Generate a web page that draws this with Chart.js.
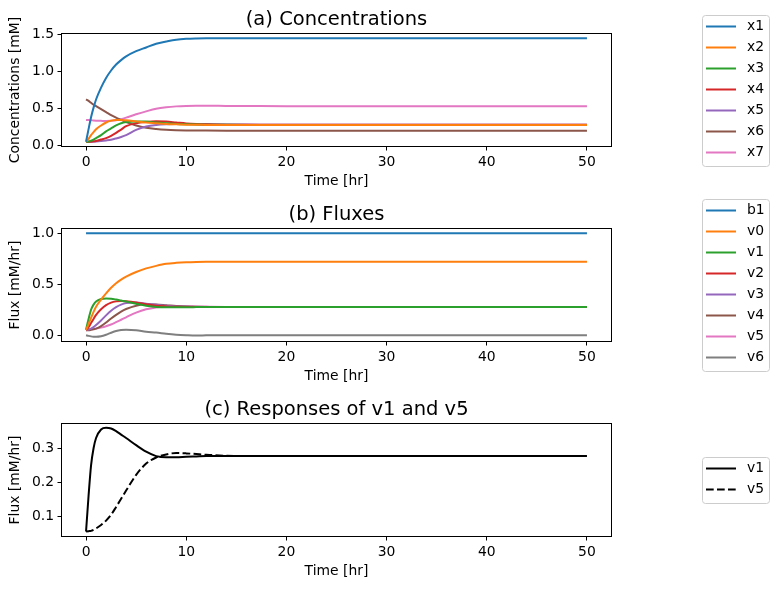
<!DOCTYPE html>
<html>
<head>
<meta charset="utf-8">
<script src="https://cdn.jsdelivr.net/npm/chart.js@4"></script>
<style>
    body { margin: 0; background: #ffffff; }
    .panel { position: absolute; left: 0; }
</style>
</head>
<body>
<canvas id="chartConc" class="panel" width="779" height="195" style="top:0px"></canvas>
<canvas id="chartFlux" class="panel" width="779" height="195" style="top:195px"></canvas>
<canvas id="chartResp" class="panel" width="779" height="195" style="top:390px"></canvas>
<script>
// Temps d'échantillonnage [hr]
const times = [0, 0.25, 0.5, 0.75, 1, 1.5, 2, 2.5, 3, 3.5, 4, 5, 6, 7, 8, 9, 10, 11, 12, 14, 16, 20, 30, 40, 50];

// (a) concentrations [mM]
const x1 = [0.05, 0.22, 0.38, 0.51, 0.62, 0.78, 0.91, 1.01, 1.09, 1.15, 1.2, 1.27, 1.32, 1.37, 1.4, 1.425, 1.437, 1.442, 1.444, 1.445, 1.445, 1.445, 1.445, 1.445, 1.445];
const x2 = [0.05, 0.09, 0.14, 0.18, 0.22, 0.27, 0.31, 0.335, 0.345, 0.345, 0.34, 0.325, 0.31, 0.3, 0.29, 0.285, 0.281, 0.279, 0.277, 0.276, 0.275, 0.275, 0.275, 0.275, 0.275];
const x3 = [0.05, 0.055, 0.065, 0.08, 0.1, 0.14, 0.19, 0.23, 0.27, 0.3, 0.315, 0.325, 0.322, 0.31, 0.3, 0.29, 0.285, 0.282, 0.28, 0.278, 0.277, 0.277, 0.277, 0.277, 0.277];
const x4 = [0.05, 0.05, 0.052, 0.056, 0.062, 0.08, 0.1, 0.13, 0.17, 0.215, 0.26, 0.3, 0.318, 0.326, 0.322, 0.31, 0.298, 0.29, 0.285, 0.281, 0.28, 0.28, 0.28, 0.28, 0.28];
const x5 = [0.05, 0.05, 0.051, 0.052, 0.054, 0.06, 0.068, 0.078, 0.095, 0.115, 0.14, 0.21, 0.255, 0.277, 0.287, 0.29, 0.29, 0.288, 0.286, 0.283, 0.282, 0.28, 0.28, 0.28, 0.28];
const x6 = [0.62, 0.6, 0.575, 0.55, 0.53, 0.49, 0.45, 0.41, 0.375, 0.345, 0.315, 0.27, 0.24, 0.223, 0.212, 0.206, 0.203, 0.202, 0.201, 0.2, 0.2, 0.2, 0.2, 0.2, 0.2];
const x7 = [0.345, 0.342, 0.34, 0.337, 0.335, 0.332, 0.33, 0.332, 0.34, 0.355, 0.375, 0.42, 0.46, 0.495, 0.515, 0.527, 0.533, 0.535, 0.535, 0.533, 0.532, 0.53, 0.53, 0.53, 0.53];

// (b) flux [mM/hr]
const b1 = [1, 1, 1, 1, 1, 1, 1, 1, 1, 1, 1, 1, 1, 1, 1, 1, 1, 1, 1, 1, 1, 1, 1, 1, 1];
const v0 = [0.05, 0.11, 0.17, 0.23, 0.28, 0.35, 0.41, 0.465, 0.51, 0.545, 0.575, 0.62, 0.655, 0.68, 0.7, 0.71, 0.716, 0.719, 0.72, 0.72, 0.72, 0.72, 0.72, 0.72, 0.72];
const v1 = [0.056, 0.16, 0.25, 0.3, 0.33, 0.355, 0.36, 0.358, 0.35, 0.34, 0.33, 0.309, 0.29, 0.277, 0.2735, 0.2735, 0.275, 0.276, 0.277, 0.2775, 0.2775, 0.2775, 0.2775, 0.2775, 0.2775];
const v2 = [0.05, 0.08, 0.12, 0.16, 0.2, 0.255, 0.295, 0.32, 0.332, 0.335, 0.333, 0.322, 0.305, 0.29, 0.283, 0.279, 0.277, 0.277, 0.2775, 0.2775, 0.2775, 0.2775, 0.2775, 0.2775, 0.2775];
const v3 = [0.05, 0.055, 0.065, 0.08, 0.1, 0.145, 0.195, 0.24, 0.275, 0.3, 0.315, 0.32, 0.31, 0.298, 0.288, 0.282, 0.279, 0.278, 0.2775, 0.2775, 0.2775, 0.2775, 0.2775, 0.2775, 0.2775];
const v4 = [0.05, 0.05, 0.053, 0.058, 0.065, 0.09, 0.125, 0.165, 0.2, 0.232, 0.257, 0.29, 0.303, 0.302, 0.295, 0.287, 0.282, 0.279, 0.278, 0.2775, 0.2775, 0.2775, 0.2775, 0.2775, 0.2775];
const v5 = [0.056, 0.057, 0.058, 0.061, 0.065, 0.075, 0.088, 0.105, 0.128, 0.152, 0.176, 0.222, 0.255, 0.273, 0.282, 0.286, 0.285, 0.283, 0.281, 0.278, 0.2775, 0.2775, 0.2775, 0.2775, 0.2775];
const v6 = [0, -0.006, -0.011, -0.014, -0.015, -0.01, 0.005, 0.025, 0.042, 0.051, 0.055, 0.05, 0.035, 0.027, 0.015, 0.006, 0.001, -0.002, -0.001, 0, 0, 0, 0, 0, 0];

// Graduations
const xTicks = [0, 10, 20, 30, 40, 50];
const concTicks = [0.0, 0.5, 1.0, 1.5];
const fluxTicks = [0.0, 0.5, 1.0];
const respTicks = [0.1, 0.2, 0.3];

const palette = ["#1f77b4", "#ff7f0e", "#2ca02c", "#d62728", "#9467bd", "#8c564b", "#e377c2", "#7f7f7f"];

Chart.defaults.font.family = "'DejaVu Sans', sans-serif";
Chart.defaults.font.size = 13.9;
Chart.defaults.color = "#000000";

function toPoints(values) {
    return times.map((t, i) => ({ x: t, y: values[i] }));
}

function makeDataset(label, values, color, dash) {
    return {
        label: label,
        data: toPoints(values),
        borderColor: color,
        borderWidth: 2,
        borderDash: dash || [],
        pointRadius: 0,
        fill: false,
        cubicInterpolationMode: "monotone",
    };
}

// Cadre complet + légende à droite façon matplotlib
const sideLegend = {
    id: "sideLegend",
    afterDraw(chart) {
        const { ctx, chartArea: a } = chart;
        ctx.save();
        ctx.strokeStyle = "#000000";
        ctx.lineWidth = 1;
        ctx.strokeRect(Math.round(a.left) + 0.5, Math.round(a.top) + 0.5,
            Math.round(a.right - a.left) - 1, Math.round(a.bottom - a.top) - 1);

        const sets = chart.data.datasets;
        const rowH = 21;
        const boxH = sets.length * rowH + 4;
        const boxTop = Math.round((a.top + a.bottom) / 2 - boxH / 2) + 0.5;
        ctx.fillStyle = "rgba(255,255,255,0.8)";
        ctx.strokeStyle = "#cccccc";
        ctx.beginPath();
        ctx.roundRect(702.5, boxTop, 67, boxH, 3);
        ctx.fill();
        ctx.stroke();

        ctx.font = "13.9px 'DejaVu Sans'";
        ctx.textBaseline = "middle";
        ctx.textAlign = "left";
        sets.forEach((ds, i) => {
            const y = boxTop + 11 + i * rowH;
            ctx.strokeStyle = ds.borderColor;
            ctx.lineWidth = ds.borderWidth;
            ctx.setLineDash(ds.borderDash || []);
            ctx.beginPath();
            ctx.moveTo(706, y);
            ctx.lineTo(736, y);
            ctx.stroke();
            ctx.setLineDash([]);
            ctx.fillStyle = "#000000";
            ctx.fillText(ds.label, 747, y);
        });
        ctx.restore();
    },
};

function makeOptions(title, yLabel, yMin, yMax, yTicks) {
    return {
        responsive: false,
        animation: false,
        layout: { padding: { left: 0, right: 167, top: 0, bottom: 0 } },
        plugins: {
            legend: { display: false },
            tooltip: { enabled: false },
            title: {
                display: true,
                text: title,
                fullSize: false,
                color: "#000000",
                font: { size: 19.5, weight: "normal" },
                padding: { top: 8, bottom: 1.6 },
            },
        },
        scales: {
            x: {
                type: "linear",
                min: -2.5,
                max: 52.5,
                afterBuildTicks: (s) => { s.ticks = xTicks.map((v) => ({ value: v })); },
                afterFit: (s) => { s.height = 48; },
                ticks: { padding: 3.5, maxRotation: 0, color: "#000000" },
                grid: { drawOnChartArea: false, tickLength: 3.5, color: "#000000" },
                border: { display: false },
                title: { display: true, text: "Time [hr]", color: "#000000", padding: { top: 0, bottom: 5 } },
            },
            y: {
                type: "linear",
                min: yMin,
                max: yMax,
                afterBuildTicks: (s) => { s.ticks = yTicks.map((v) => ({ value: v })); },
                afterFit: (s) => { s.width = 61; },
                ticks: { padding: 3.5, color: "#000000", callback: (v) => Number(v).toFixed(1) },
                grid: { drawOnChartArea: false, tickLength: 3.5, color: "#000000" },
                border: { display: false },
                title: { display: true, text: yLabel, color: "#000000", padding: { top: 7.5, bottom: 0 } },
            },
        },
    };
}

document.addEventListener("DOMContentLoaded", () => {
    new Chart(document.getElementById("chartConc"), {
        type: "line",
        data: {
            datasets: [
                makeDataset("x1", x1, palette[0]),
                makeDataset("x2", x2, palette[1]),
                makeDataset("x3", x3, palette[2]),
                makeDataset("x4", x4, palette[3]),
                makeDataset("x5", x5, palette[4]),
                makeDataset("x6", x6, palette[5]),
                makeDataset("x7", x7, palette[6]),
            ],
        },
        options: makeOptions("(a) Concentrations", "Concentrations [mM]", -0.02, 1.515, concTicks),
        plugins: [sideLegend],
    });

    new Chart(document.getElementById("chartFlux"), {
        type: "line",
        data: {
            datasets: [
                makeDataset("b1", b1, palette[0]),
                makeDataset("v0", v0, palette[1]),
                makeDataset("v1", v1, palette[2]),
                makeDataset("v2", v2, palette[3]),
                makeDataset("v3", v3, palette[4]),
                makeDataset("v4", v4, palette[5]),
                makeDataset("v5", v5, palette[6]),
                makeDataset("v6", v6, palette[7]),
            ],
        },
        options: makeOptions("(b) Fluxes", "Flux [mM/hr]", -0.066, 1.051, fluxTicks),
        plugins: [sideLegend],
    });

    new Chart(document.getElementById("chartResp"), {
        type: "line",
        data: {
            datasets: [
                makeDataset("v1", v1, "#000000"),
                makeDataset("v5", v5, "#000000", [7.7, 3.3]),
            ],
        },
        options: makeOptions("(c) Responses of v1 and v5", "Flux [mM/hr]", 0.04, 0.374, respTicks),
        plugins: [sideLegend],
    });
});
</script>
</body>
</html>
